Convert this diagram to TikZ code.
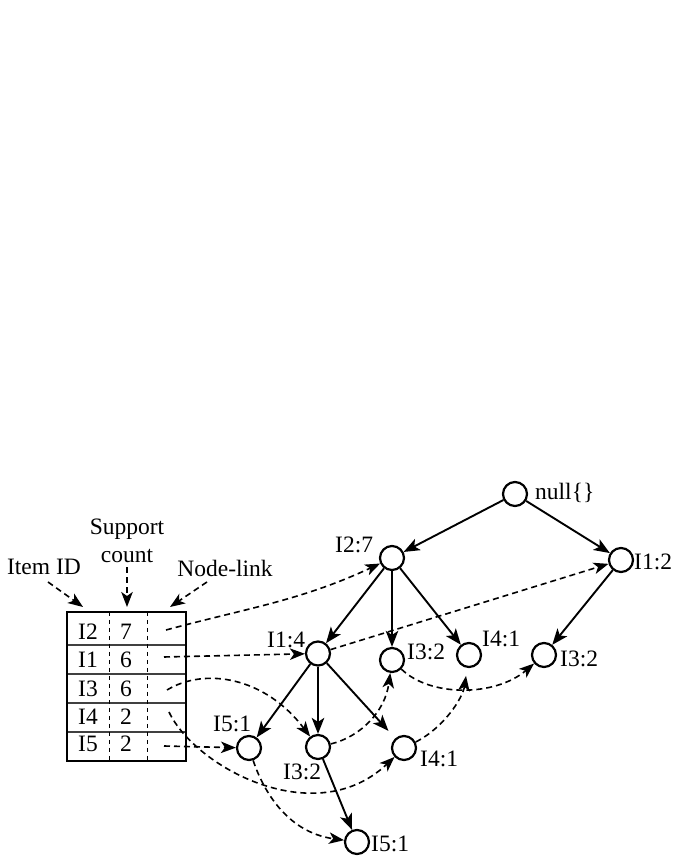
\documentclass[tikz,border=0pt]{standalone}
\usepackage{fontspec}
\setmainfont{Liberation Serif}
\usetikzlibrary{arrows.meta}
\begin{document}
\begin{tikzpicture}[x=1pt,y=1pt,
  every node/.style={font=\fontsize{23.5}{27}\selectfont},
  nd/.style={circle,draw,line width=2.2pt,minimum size=24pt,inner sep=0pt},
  lbl/.style={anchor=base west,inner sep=0pt},
  hd/.style={anchor=base,inner sep=0pt},
  tree/.style={line width=1.9pt,-{Stealth[length=16pt,width=12.5pt,inset=4pt]}},
  link/.style={line width=1.6pt,dash pattern=on 6pt off 4pt,-{Stealth[length=15pt,width=11.5pt,inset=4pt]}},
  rowline/.style={line width=1.5pt,black!75},
  colline/.style={line width=1pt,dash pattern=on 4.5pt off 3.5pt},
]
\useasboundingbox (0,0) rectangle (672,862);

% tree nodes
\node[nd] (nul) at (515,368) {};
\node[nd] (a27) at (392,304) {};
\node[nd] (b12) at (621,302) {};
\node[nd] (a14) at (318,208.5) {};
\node[nd] (a32) at (392,202) {};
\node[nd] (a41) at (469,207) {};
\node[nd] (b32) at (544,207) {};
\node[nd] (c51) at (249,114) {};
\node[nd] (c32) at (318,115) {};
\node[nd] (c41) at (404,114) {};
\node[nd] (d51) at (357,20) {};

% labels
\node[lbl] (Lnul) at (535,362) {null\{\}};
\node[lbl] (La27) at (335,309) {I2:7};
\node[lbl] (Lb12) at (634,292) {I1:2};
\node[lbl] (La14) at (267,214) {I1:4};
\node[lbl] (La32) at (407,202) {I3:2};
\node[lbl] (La41) at (482,215) {I4:1};
\node[lbl] (Lb32) at (560,195) {I3:2};
\node[lbl] (Lc51) at (213,130) {I5:1};
\node[lbl] (Lc32) at (283,82) {I3:2};
\node[lbl] (Lc41) at (420,95) {I4:1};
\node[lbl] (Ld51) at (371,10) {I5:1};

% header labels
\node[hd] (hsup) at (127,327) {Support};
\node[hd] (hcnt) at (127,299) {count};
\node[hd] (hid) at (44,287) {Item ID};
\node[hd] (hnl) at (225,285) {Node-link};
\coordinate (tA) at (83,255);
\coordinate (tB) at (127,255);
\coordinate (tC) at (170,255);
\draw[link] (48,280) -- (tA);
\draw[link] (hcnt.south) ++(0,-4) -- (tB);
\draw[link] (207,280) -- (tC);

% table
\draw[rowline] (67,217) -- (186,217) (67,188) -- (186,188) (67,159) -- (186,159) (67,130) -- (186,130);
\draw[colline] (109,250) -- (109,101) (147,250) -- (147,101);
\draw[line width=2.4pt] (67,250) rectangle (186,101);
\node[hd] (t2) at (88,222) {I2}; \node[hd] (n2) at (126,222) {7};
\node[hd] (t1) at (88,194) {I1}; \node[hd] (n1) at (126,194) {6};
\node[hd] (t3) at (88,165) {I3}; \node[hd] (n3) at (126,165) {6};
\node[hd] (t4) at (88,137) {I4}; \node[hd] (n4) at (126,137) {2};
\node[hd] (t5) at (88,110) {I5}; \node[hd] (n5) at (126,110) {2};
\coordinate (l2) at (166,232);
\coordinate (l1) at (164,205);
\coordinate (l3) at (167,172);
\coordinate (l4) at (169,150);
\coordinate (l5) at (164,116);

% tree edges
\draw[tree] (nul) -- (a27);
\draw[tree] (nul) -- (b12);
\draw[tree] (a27) -- (a14);
\draw[tree] (a27) -- (a32);
\draw[tree] (a27) -- (a41);
\draw[tree] (b12) -- (b32);
\draw[tree] (a14) -- (c51);
\draw[tree] (a14) -- (c32);
\draw[tree,shorten >=10pt] (a14) -- (c41);
\draw[tree] (c32) -- (d51);

% node links
\draw[link] (l2) to[out=15,in=205] (a27);
\draw[link] (l1) -- (a14);
\draw[link] (a14) -- (b12);
\draw[link] (l3) .. controls (205,195) and (265,185) .. (c32);
\draw[link] (l4) .. controls (195,95) and (315,30) .. (c41);
\draw[link] (l5) -- (c51);
\draw[link] (c51) .. controls (262,75) and (285,30) .. (d51);
\draw[link] (c32) .. controls (360,125) and (385,150) .. (a32);
\draw[link,shorten >=8pt] (c41) .. controls (445,135) and (463,165) .. (a41);
\draw[link] (a32) .. controls (430,165) and (495,165) .. (b32);
\end{tikzpicture}
\end{document}
